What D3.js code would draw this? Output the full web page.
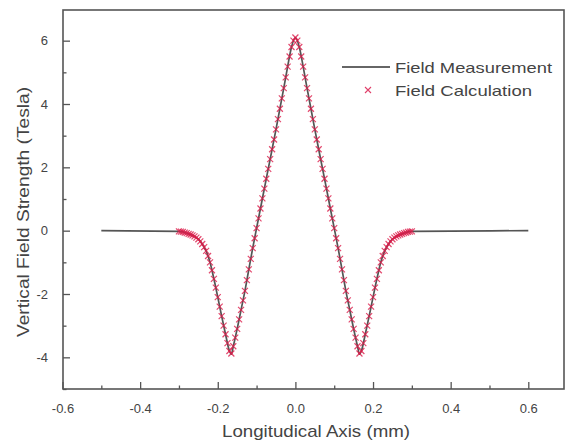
<!DOCTYPE html>
<html><head><meta charset="utf-8">
<script src="https://cdn.jsdelivr.net/npm/d3@7"></script>
<style>html,body{margin:0;padding:0;background:#fff}svg{display:block}</style>
</head><body>
<svg id="chart" width="567" height="443"></svg>
<script>
// ---- data ----
const xTickValues = [-0.6, -0.4, -0.2, 0.0, 0.2, 0.4, 0.6];
const xTickLabels = ["-0.6", "-0.4", "-0.2", "0.0", "0.2", "0.4", "0.6"];
const yTickValues = [-4, -2, 0, 2, 4, 6];
const yTickLabels = ["-4", "-2", "0", "2", "4", "6"];
const xMinorTicks = [-0.5, -0.3, -0.1, 0.1, 0.3, 0.5];
const yMinorTicks = [-5, -3, -1, 1, 3, 5];

const seriesNames = ["Field Measurement", "Field Calculation"];

const measX = [-0.5, -0.3, -0.29, -0.28, -0.27, -0.26, -0.25, -0.24, -0.23, -0.22, -0.21, -0.2, -0.19, -0.18, -0.17, -0.165, -0.16, -0.15, -0.14, -0.13, -0.12, -0.11, -0.1, -0.09, -0.08, -0.07, -0.06, -0.05, -0.04, -0.03, -0.02, -0.01,
  0, 0.01, 0.02, 0.03, 0.04, 0.05, 0.06, 0.07, 0.08, 0.09, 0.1, 0.11, 0.12, 0.13, 0.14, 0.15, 0.16, 0.165, 0.17, 0.18, 0.19, 0.2, 0.21, 0.22, 0.23, 0.24, 0.25, 0.26, 0.27, 0.28, 0.29, 0.3, 0.6];
const measY = [0, -0.02, -0.04, -0.08, -0.12, -0.18, -0.27, -0.42, -0.64, -1.00, -1.52, -2.10, -2.70, -3.27, -3.80, -3.90, -3.65, -3.10, -2.50, -1.90, -1.22, -0.55, 0.08, 0.70, 1.33, 1.95, 2.57, 3.20, 3.85, 4.50, 5.18, 5.80,
  6.10, 5.80, 5.18, 4.50, 3.85, 3.20, 2.57, 1.95, 1.33, 0.70, 0.08, -0.55, -1.22, -1.90, -2.50, -3.10, -3.65, -3.90, -3.80, -3.27, -2.70, -2.10, -1.52, -1.00, -0.64, -0.42, -0.27, -0.18, -0.12, -0.08, -0.04, -0.02, 0];

// calculation sampled every 0.005 mm from -0.3 to 0.3
const calcStart = -0.3, calcStep = 0.005;
const calcY = [
  -0.02, -0.03, -0.04, -0.06, -0.08, -0.10, -0.12, -0.15, -0.18, -0.22, -0.27, -0.34, -0.42, -0.52, -0.64, -0.80, -1.00, -1.25, -1.52, -1.80,
  -2.10, -2.40, -2.70, -3.00, -3.27, -3.55, -3.80, -3.88, -3.65, -3.38, -3.10, -2.80, -2.50, -2.20, -1.90, -1.56, -1.22, -0.89, -0.55, -0.24,
  0.08, 0.39, 0.70, 1.02, 1.33, 1.64, 1.95, 2.26, 2.57, 2.88, 3.20, 3.52, 3.85, 4.18, 4.50, 4.84, 5.18, 5.50, 5.80, 6.00,
  6.10,
  6.00, 5.80, 5.50, 5.18, 4.84, 4.50, 4.18, 3.85, 3.52, 3.20, 2.88, 2.57, 2.26, 1.95, 1.64, 1.33, 1.02, 0.70, 0.39, 0.08,
  -0.24, -0.55, -0.89, -1.22, -1.56, -1.90, -2.20, -2.50, -2.80, -3.10, -3.38, -3.65, -3.88, -3.80, -3.55, -3.27, -3.00, -2.70, -2.40, -2.10,
  -1.80, -1.52, -1.25, -1.00, -0.80, -0.64, -0.52, -0.42, -0.34, -0.27, -0.22, -0.18, -0.15, -0.12, -0.10, -0.08, -0.06, -0.04, -0.03, -0.02
];
const calcX = calcY.map((d, i) => calcStart + i * calcStep);

// ---- layout ----
const svg = d3.select("#chart");
const frame = {left: 63, right: 564, top: 10, bottom: 389};
const x = d3.scaleLinear().domain([-0.6, 0.6]).range([62.5, 528.3]);
const y = d3.scaleLinear().domain([-5, 7]).range([389, 9]);
const axisColor = "#555";
const font = "'Liberation Sans', Arial, sans-serif";

// frame
svg.append("rect").attr("x", frame.left).attr("y", frame.top)
  .attr("width", frame.right - frame.left).attr("height", frame.bottom - frame.top)
  .attr("fill", "none").attr("stroke", axisColor).attr("stroke-width", 1.6);

// x axis (ticks inward)
const xAxis = d3.axisBottom(x).tickValues(xTickValues).tickSizeInner(-7).tickSizeOuter(0)
  .tickPadding(15).tickFormat((d, i) => xTickLabels[i]);
const gx = svg.append("g").attr("transform", `translate(0,${frame.bottom})`).call(xAxis);
gx.select(".domain").remove();
gx.selectAll("line").attr("stroke", axisColor).attr("stroke-width", 1.3);
gx.selectAll("text").attr("font-family", font).attr("font-size", 13).attr("fill", "#444");
const xMinor = d3.axisBottom(x).tickValues(xMinorTicks).tickSizeInner(-3.5).tickSizeOuter(0).tickFormat("");
const gxm = svg.append("g").attr("transform", `translate(0,${frame.bottom})`).call(xMinor);
gxm.select(".domain").remove();
gxm.selectAll("line").attr("stroke", axisColor).attr("stroke-width", 1.3);

// y axis
const yAxis = d3.axisLeft(y).tickValues(yTickValues).tickSizeInner(-7).tickSizeOuter(0)
  .tickPadding(15).tickFormat((d, i) => yTickLabels[i]);
const gy = svg.append("g").attr("transform", `translate(${frame.left},0)`).call(yAxis);
gy.select(".domain").remove();
gy.selectAll("line").attr("stroke", axisColor).attr("stroke-width", 1.3);
gy.selectAll("text").attr("font-family", font).attr("font-size", 13).attr("fill", "#444");
const yMinor = d3.axisLeft(y).tickValues(yMinorTicks).tickSizeInner(-3.5).tickSizeOuter(0).tickFormat("");
const gym = svg.append("g").attr("transform", `translate(${frame.left},0)`).call(yMinor);
gym.select(".domain").remove();
gym.selectAll("line").attr("stroke", axisColor).attr("stroke-width", 1.3);

// axis titles
svg.append("text").attr("x", 316).attr("y", 437).attr("text-anchor", "middle")
  .attr("font-family", font).attr("font-size", 17).attr("fill", "#444")
  .attr("textLength", 188).attr("lengthAdjust", "spacingAndGlyphs")
  .text("Longitudical Axis (mm)");
svg.append("text").attr("transform", "translate(29,212) rotate(-90)").attr("text-anchor", "middle")
  .attr("font-family", font).attr("font-size", 17).attr("fill", "#444")
  .attr("textLength", 250).attr("lengthAdjust", "spacingAndGlyphs")
  .text("Vertical Field Strength (Tesla)");

// measurement line
const measData = measX.map((v, i) => [v, measY[i]]);
svg.append("path").datum(measData)
  .attr("d", d3.line().x(d => x(d[0])).y(d => y(d[1])).curve(d3.curveMonotoneX))
  .attr("fill", "none").attr("stroke", "#555").attr("stroke-width", 1.7);

// calculation markers (x crosses)
const s = 3;
const calcData = calcX.map((v, i) => [v, calcY[i]]);
svg.append("g").selectAll("path").data(calcData).join("path")
  .attr("transform", d => `translate(${x(d[0])},${y(d[1])})`)
  .attr("d", `M${-s},${-s}L${s},${s}M${-s},${s}L${s},${-s}`)
  .attr("stroke", "#dc1c4a").attr("stroke-width", 1.2).attr("stroke-opacity", 0.8).attr("fill", "none");

// legend
const lg = svg.append("g");
lg.append("line").attr("x1", 342).attr("x2", 390).attr("y1", 67).attr("y2", 67)
  .attr("stroke", "#333").attr("stroke-width", 1.7);
lg.append("text").attr("x", 395).attr("y", 72.5).attr("font-family", font).attr("font-size", 15)
  .attr("fill", "#444").attr("textLength", 157).attr("lengthAdjust", "spacingAndGlyphs").text(seriesNames[0]);
lg.append("path").attr("transform", "translate(368,90)")
  .attr("d", `M${-s},${-s}L${s},${s}M${-s},${s}L${s},${-s}`)
  .attr("stroke", "#e0406a").attr("stroke-width", 1.1).attr("fill", "none");
lg.append("text").attr("x", 395).attr("y", 95.5).attr("font-family", font).attr("font-size", 15)
  .attr("fill", "#444").attr("textLength", 137).attr("lengthAdjust", "spacingAndGlyphs").text(seriesNames[1]);
</script>
</body></html>
